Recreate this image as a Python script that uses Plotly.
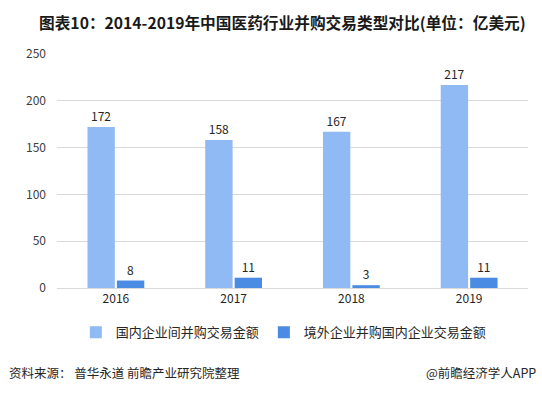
import plotly.graph_objects as go

years = ["2016", "2017", "2018", "2019"]
domestic = [172, 158, 167, 217]
foreign = [8, 11, 3, 11]
series_names = ["国内企业间并购交易金额", "境外企业并购国内企业交易金额"]
title = "图表10：2014-2019年中国医药行业并购交易类型对比(单位：亿美元)"
source = "资料来源： 普华永道 前瞻产业研究院整理"
brand = "@前瞻经济学人APP"

font_family = "Microsoft YaHei, Noto Sans CJK SC, sans-serif"

fig = go.Figure()
fig.add_trace(go.Bar(
    x=years, y=domestic, name=series_names[0],
    marker=dict(color="#8FBAF3", line=dict(width=0)),
    text=domestic, textposition="outside",
    textfont=dict(size=12, color="#262626"), cliponaxis=False,
))
fig.add_trace(go.Bar(
    x=years, y=foreign, name=series_names[1],
    marker=dict(color="#4A8BE3", line=dict(width=0)),
    text=foreign, textposition="outside",
    textfont=dict(size=12, color="#262626"), cliponaxis=False,
))

fig.update_layout(
    width=542, height=393,
    margin=dict(l=57, r=14, t=54, b=105),
    paper_bgcolor="white", plot_bgcolor="white",
    barmode="group", bargap=0.5, bargroupgap=0.07,
    font=dict(family=font_family, size=11, color="#404040"),
    showlegend=True,
    legend=dict(orientation="h", x=0.04, xanchor="left", y=-0.125, yanchor="top",
                font=dict(size=13, color="#262626"), itemwidth=30,
                traceorder="normal"),
)
fig.update_xaxes(showgrid=False, showline=True, linecolor="#D9D9D9", linewidth=1,
                 ticks="", tickfont=dict(size=12, color="#262626"))
fig.update_yaxes(range=[0, 250], dtick=50, showgrid=True, gridcolor="#D9D9D9",
                 gridwidth=1, zeroline=False, showline=False, ticks="",
                 tickfont=dict(size=12, color="#404040"), ticklabelstandoff=10)

fig.add_annotation(text="<b>" + title + "</b>", xref="paper", yref="paper",
                   x=0.5, y=1, xshift=-10, yshift=32, xanchor="center", yanchor="middle",
                   showarrow=False, font=dict(size=15.7, color="#1a1a1a"))
fig.add_annotation(text=source, xref="paper", yref="paper", x=0, xshift=-50,
                   y=0, yshift=-84, xanchor="left", yanchor="middle",
                   showarrow=False, font=dict(size=12.5, color="#262626"))
fig.add_annotation(text=brand, xref="paper", yref="paper", x=1, xshift=10,
                   y=0, yshift=-84, xanchor="right", yanchor="middle",
                   showarrow=False, font=dict(size=12.5, color="#262626"))

fig.write_html("out.html", config={"displayModeBar": False},
               post_script="document.body.style.margin='0';document.body.style.padding='0';")
